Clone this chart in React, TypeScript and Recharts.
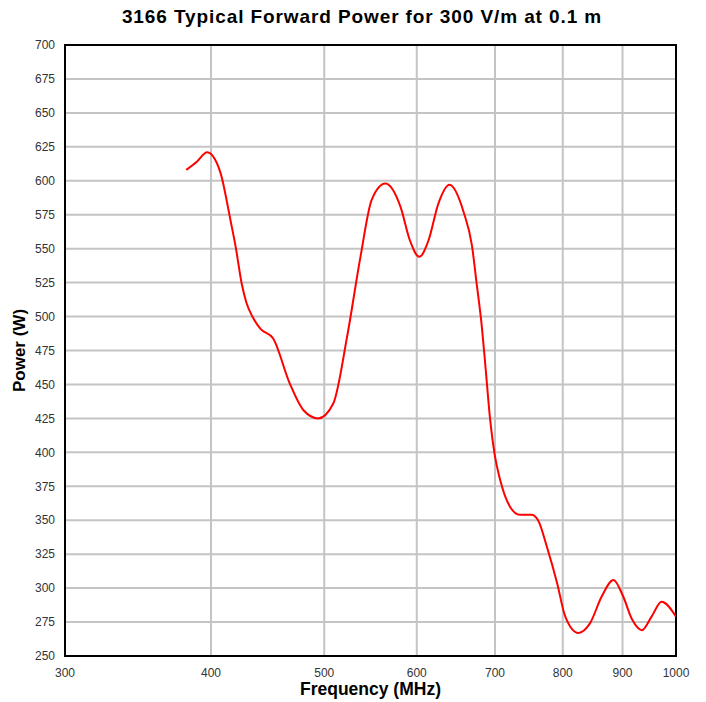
import React from 'react';
import { LineChart, Line, XAxis, YAxis, CartesianGrid, ReferenceArea, Label } from 'recharts';

const frequencies = [381, 389, 397, 403, 409, 412, 415, 420, 425, 429, 434, 441, 452, 467, 480, 494, 509, 523, 537, 549, 564, 581, 592, 603, 614, 626, 640, 658, 669, 675, 682, 687, 693, 700, 707, 721, 735, 752, 762, 775, 791, 804, 825, 844, 864, 884, 901, 917, 935, 953, 972, 1000];
const powers = [608, 614, 621, 616, 601, 588, 574, 551, 524, 510, 500, 491, 484, 451, 431, 425, 436, 485, 544, 586, 598, 581, 556, 544, 556, 583, 597, 577, 552, 525, 493, 463, 426, 397, 380, 360, 354, 354, 350, 331, 304, 279, 267, 274, 294, 306, 294, 277, 269, 279, 290, 279];

const xTicks = [300, 400, 500, 600, 700, 800, 900, 1000];
const yTicks = [250, 275, 300, 325, 350, 375, 400, 425, 450, 475, 500, 525, 550, 575, 600, 625, 650, 675, 700];

const data = frequencies.map((f, i) => ({ freq: f, power: powers[i] }));

const font = '"Liberation Sans", Arial, sans-serif';

export default function App() {
  return (
    <div style={{ position: 'absolute', left: 0, top: 0, width: 706, height: 702, background: '#fff', fontFamily: font }}>
      <div style={{ position: 'absolute', left: 0, width: 724, top: 6, textAlign: 'center', fontWeight: 'bold', fontSize: 19, letterSpacing: 0.9, color: '#000', whiteSpace: 'nowrap' }}>
        3166 Typical Forward Power for 300 V/m at 0.1 m
      </div>
      <LineChart width={706} height={702} data={data} margin={{ top: 45, right: 30, bottom: 0, left: 0 }}>
        <CartesianGrid stroke="#c4c4c4" strokeWidth={2} />
        <XAxis
          dataKey="freq"
          type="number"
          scale="log"
          domain={[300, 1000]}
          ticks={xTicks}
          allowDataOverflow
          tickLine={false}
          axisLine={false}
          height={46}
          tickMargin={6}
          tick={{ fill: '#333', fontSize: 12, fontFamily: font }}
          interval={0}
        >
          <Label value="Frequency (MHz)" position="insideBottom" offset={7} style={{ fontWeight: 'bold', fontSize: 17.5, fill: '#000', fontFamily: font }} />
        </XAxis>
        <YAxis
          type="number"
          domain={[250, 700]}
          ticks={yTicks}
          allowDataOverflow
          tickLine={false}
          axisLine={false}
          width={65}
          tickMargin={4}
          tick={{ fill: '#333', fontSize: 12, fontFamily: font }}
          interval={0}
        >
          <Label value="Power (W)" angle={-90} position="insideLeft" offset={19} style={{ fontWeight: 'bold', fontSize: 17, fill: '#000', fontFamily: font, textAnchor: 'middle' }} />
        </YAxis>
        <ReferenceArea x1={300} x2={1000} y1={250} y2={700} fill="none" stroke="#000" strokeWidth={2} ifOverflow="extendDomain" />
        <Line type="monotone" dataKey="power" stroke="#ff0000" strokeWidth={2} dot={false} isAnimationActive={false} />
      </LineChart>
    </div>
  );
}
